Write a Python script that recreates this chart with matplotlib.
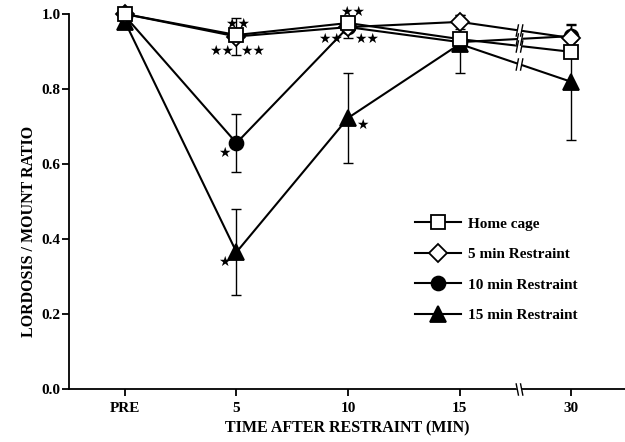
import matplotlib.pyplot as plt
import numpy as np
from matplotlib.path import Path

plt.rcParams['font.family'] = ['Liberation Serif', 'DejaVu Sans']
plt.rcParams['font.weight'] = 'bold'
plt.rcParams['axes.labelweight'] = 'bold'
plt.rcParams['font.size'] = 11

# lordosis / mount ratio per group
time_labels = ['PRE', '5', '10', '15', '30']
home_cage = [1.0, 0.944, 0.976, 0.933, 0.899]
restraint_5 = [1.0, 0.94, 0.965, 0.979, 0.936]
restraint_10 = [0.995, 0.656, 0.965, 0.925, 0.941]
restraint_15 = [0.98, 0.365, 0.723, 0.92, 0.819]

# standard errors
sem_home = [0, 0, 0, 0, 0]
sem_5 = [0, 0.05, 0, 0.018, 0]
sem_10 = [0, 0.078, 0.03, 0, 0.03]
sem_15 = [0, 0.115, 0.12, 0.077, 0.155]

fig = plt.figure(figsize=(6.25, 4.42), dpi=100)
ax = fig.add_axes([69 / 625, 1 - 389 / 442, 556 / 625, 375 / 442])
x = np.arange(len(time_labels))

series = [
    (home_cage, sem_home, 's', 10, 'white', 'Home cage'),
    (restraint_5, sem_5, 'D', 9.5, 'white', '5 min Restraint'),
    (restraint_10, sem_10, 'o', 10, 'black', '10 min Restraint'),
    (restraint_15, sem_15, '^', 11, 'black', '15 min Restraint'),
]

# break marks: white gap plus two slashes
slashes = Path([(-0.55, -1), (-0.15, 1), (0.15, -1), (0.55, 1)],
               [Path.MOVETO, Path.LINETO, Path.MOVETO, Path.LINETO])
gap = Path([(-0.35, -1), (0.35, 1)], [Path.MOVETO, Path.LINETO])
slashes_rev = Path([(-0.55, 1), (-0.15, -1), (0.15, 1), (0.55, -1)],
                   [Path.MOVETO, Path.LINETO, Path.MOVETO, Path.LINETO])
gap_rev = Path([(-0.35, 1), (0.35, -1)], [Path.MOVETO, Path.LINETO])
x_break = 3.53

handles = []
for i, (vals, sem, mk, ms, fc, lab) in enumerate(series):
    vals = np.array(vals)
    sem = np.array(sem)
    idx = sem > 0
    ax.errorbar(x[idx], vals[idx], yerr=sem[idx], fmt='none', ecolor='black',
                elinewidth=1, capsize=3.5, capthick=1, zorder=2, clip_on=False)
    line, = ax.plot(x, vals, marker=mk, ms=ms, mfc=fc, mec='black', mew=1.3,
                    color='black', lw=1.5, label=lab, zorder=10 - i, clip_on=False)
    handles.append(line)
    yb = vals[3] + (x_break - 3) * (vals[4] - vals[3])
    ax.plot([x_break], [yb], marker=gap, ms=9, mec='white', mew=3.5,
            ls='none', zorder=20)
    ax.plot([x_break], [yb], marker=slashes, ms=9, mec='black', mew=1,
            ls='none', zorder=21)

# axis break
ax.plot([x_break], [0], marker=gap_rev, ms=9, mec='white', mew=3.5,
        ls='none', zorder=20, clip_on=False)
ax.plot([x_break], [0], marker=slashes_rev, ms=9, mec='black', mew=1,
        ls='none', zorder=21, clip_on=False)

# significance stars (series, point, text, dx, dy in pixels)
stars = [
    (home_cage, 1, '★★', 1, 11),
    (home_cage, 1, '★★', -15, -16),
    (home_cage, 1, '★★', 16, -16),
    (restraint_10, 1, '★', -12, -10),
    (restraint_15, 1, '★', -12, -10),
    (home_cage, 2, '★★', 4, 11),
    (home_cage, 2, '★★', -18, -16),
    (home_cage, 2, '★★', 18, -16),
    (restraint_15, 2, '★', 14, -7),
]
for vals, k, txt, dx, dy in stars:
    ax.annotate(txt, (x[k], vals[k]), xytext=(dx, dy), textcoords='offset pixels',
                ha='center', va='center', fontsize=10, family='DejaVu Sans',
                zorder=30)

ax.set_xlim(-0.5, 4.48)
ax.set_ylim(0, 1)
ax.set_xticks(x)
ax.set_xticklabels(time_labels)
ax.set_yticks(np.arange(0, 1.01, 0.2))
ax.set_yticklabels(['%.1f' % v for v in np.arange(0, 1.01, 0.2)])
ax.spines['top'].set_visible(False)
ax.spines['right'].set_visible(False)
ax.spines['left'].set_linewidth(1.3)
ax.spines['bottom'].set_linewidth(1.3)
ax.tick_params(direction='out', length=5, width=1.3)
ax.tick_params(axis='y', pad=1)
ax.tick_params(axis='x', pad=4)

ax.set_xlabel('TIME AFTER RESTRAINT (MIN)', fontsize=11.5, fontweight='bold', labelpad=4)
ax.set_ylabel('LORDOSIS / MOUNT RATIO', fontsize=11.5, fontweight='bold')
ax.yaxis.set_label_coords(-0.058, 0.419)

ax.legend(handles=handles, loc='upper left', bbox_to_anchor=(0.622, 0.459),
          frameon=False, handlelength=3.0, handletextpad=0.5, labelspacing=1.1,
          borderpad=0, borderaxespad=0, fontsize=11)

fig.savefig('out.png', dpi=100)
